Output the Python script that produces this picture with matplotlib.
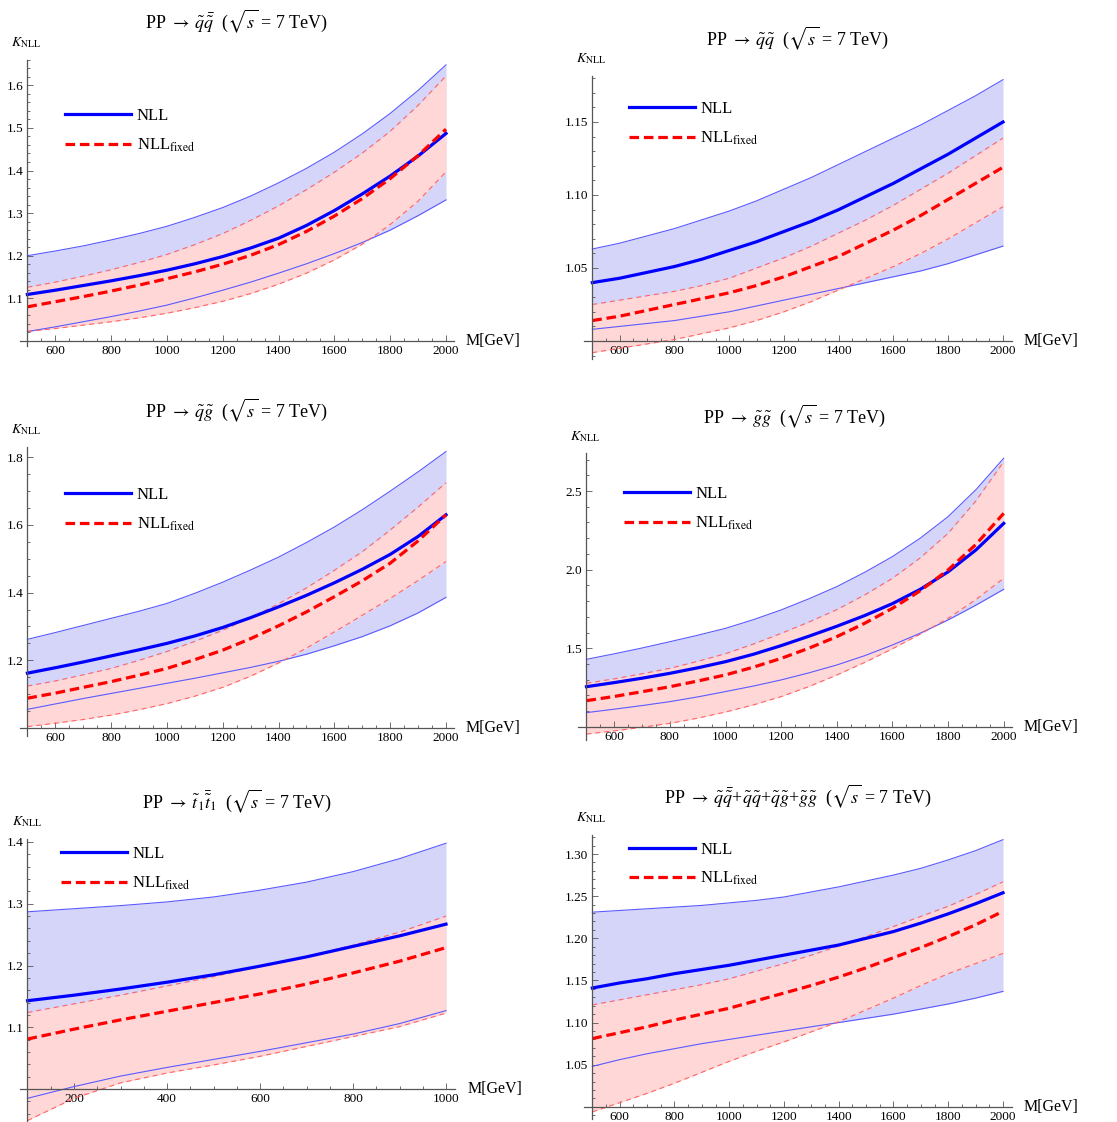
import matplotlib
matplotlib.use('Agg')
import matplotlib.pyplot as plt
from matplotlib.ticker import FixedLocator, MultipleLocator, FormatStrFormatter

plt.rcParams['font.family'] = ['Liberation Serif', 'DejaVu Serif']
plt.rcParams['mathtext.fontset'] = 'stix'

# ---- data ----
m_sq = [500, 600, 700, 800, 900, 1000, 1100, 1200, 1300, 1400, 1500, 1600, 1700, 1800, 1900, 2000]
m_st = [100, 200, 300, 400, 500, 600, 700, 800, 900, 1000]

# PP -> squark antisquark
qqb_nll = [1.109, 1.119, 1.130, 1.141, 1.153, 1.166, 1.181, 1.198, 1.218, 1.241, 1.271, 1.306, 1.345, 1.387, 1.434, 1.487]
qqb_nll_up = [1.200, 1.211, 1.223, 1.237, 1.252, 1.269, 1.290, 1.313, 1.340, 1.371, 1.405, 1.443, 1.486, 1.534, 1.588, 1.648]
qqb_nll_lo = [1.022, 1.033, 1.045, 1.057, 1.070, 1.084, 1.101, 1.119, 1.138, 1.159, 1.181, 1.205, 1.231, 1.260, 1.294, 1.331]
qqb_fix = [1.080, 1.092, 1.104, 1.117, 1.131, 1.146, 1.162, 1.180, 1.201, 1.226, 1.257, 1.293, 1.334, 1.381, 1.435, 1.497]
qqb_fix_up = [1.126, 1.138, 1.152, 1.167, 1.184, 1.203, 1.226, 1.252, 1.283, 1.317, 1.355, 1.396, 1.441, 1.492, 1.553, 1.622]
qqb_fix_lo = [1.022, 1.029, 1.037, 1.045, 1.054, 1.065, 1.078, 1.093, 1.111, 1.133, 1.159, 1.190, 1.227, 1.273, 1.328, 1.397]

# PP -> squark squark
qq_nll = [1.040, 1.043, 1.047, 1.051, 1.056, 1.062, 1.068, 1.075, 1.082, 1.090, 1.099, 1.108, 1.118, 1.128, 1.139, 1.150]
qq_nll_up = [1.063, 1.067, 1.072, 1.077, 1.083, 1.089, 1.096, 1.104, 1.112, 1.121, 1.130, 1.139, 1.148, 1.158, 1.168, 1.179]
qq_nll_lo = [1.008, 1.010, 1.012, 1.014, 1.017, 1.020, 1.024, 1.028, 1.032, 1.036, 1.040, 1.044, 1.048, 1.053, 1.059, 1.065]
qq_fix = [1.014, 1.017, 1.021, 1.025, 1.029, 1.033, 1.038, 1.044, 1.051, 1.058, 1.067, 1.076, 1.086, 1.097, 1.108, 1.119]
qq_fix_up = [1.025, 1.028, 1.031, 1.034, 1.038, 1.043, 1.050, 1.057, 1.065, 1.074, 1.083, 1.093, 1.104, 1.115, 1.127, 1.139]
qq_fix_lo = [0.992, 0.995, 0.998, 1.001, 1.005, 1.009, 1.014, 1.020, 1.027, 1.035, 1.043, 1.051, 1.060, 1.070, 1.081, 1.092]

# PP -> squark gluino
qg_nll = [1.162, 1.178, 1.195, 1.213, 1.231, 1.250, 1.272, 1.297, 1.326, 1.358, 1.392, 1.429, 1.469, 1.513, 1.566, 1.630]
qg_nll_up = [1.262, 1.282, 1.303, 1.324, 1.345, 1.368, 1.398, 1.431, 1.467, 1.505, 1.548, 1.594, 1.645, 1.700, 1.757, 1.817]
qg_nll_lo = [1.055, 1.071, 1.087, 1.102, 1.117, 1.132, 1.147, 1.163, 1.179, 1.197, 1.218, 1.243, 1.270, 1.302, 1.340, 1.386]
qg_fix = [1.088, 1.103, 1.120, 1.137, 1.156, 1.176, 1.202, 1.230, 1.264, 1.302, 1.343, 1.388, 1.435, 1.487, 1.553, 1.630]
qg_fix_up = [1.124, 1.139, 1.157, 1.176, 1.200, 1.226, 1.256, 1.289, 1.326, 1.367, 1.414, 1.466, 1.521, 1.585, 1.653, 1.725]
qg_fix_lo = [1.004, 1.014, 1.025, 1.038, 1.054, 1.072, 1.094, 1.120, 1.153, 1.192, 1.236, 1.284, 1.333, 1.383, 1.436, 1.492]

# PP -> gluino gluino
gg_nll = [1.256, 1.282, 1.310, 1.341, 1.376, 1.415, 1.462, 1.517, 1.577, 1.640, 1.708, 1.784, 1.875, 1.986, 2.125, 2.294]
gg_nll_up = [1.430, 1.465, 1.502, 1.542, 1.583, 1.627, 1.682, 1.744, 1.815, 1.892, 1.983, 2.083, 2.200, 2.337, 2.508, 2.708]
gg_nll_lo = [1.091, 1.113, 1.136, 1.161, 1.191, 1.225, 1.260, 1.299, 1.344, 1.394, 1.453, 1.521, 1.596, 1.680, 1.774, 1.875]
gg_fix = [1.167, 1.194, 1.224, 1.256, 1.292, 1.331, 1.380, 1.436, 1.501, 1.574, 1.659, 1.754, 1.866, 1.998, 2.160, 2.358]
gg_fix_up = [1.278, 1.306, 1.338, 1.373, 1.417, 1.466, 1.527, 1.595, 1.667, 1.746, 1.839, 1.945, 2.075, 2.231, 2.437, 2.686]
gg_fix_lo = [0.955, 0.975, 0.998, 1.023, 1.056, 1.095, 1.140, 1.193, 1.257, 1.330, 1.410, 1.497, 1.590, 1.690, 1.810, 1.945]

# PP -> stop antistop
tt_nll = [1.143, 1.152, 1.162, 1.173, 1.185, 1.199, 1.214, 1.231, 1.248, 1.267]
tt_nll_up = [1.287, 1.292, 1.297, 1.303, 1.311, 1.322, 1.335, 1.352, 1.373, 1.398]
tt_nll_lo = [0.985, 1.004, 1.021, 1.035, 1.048, 1.061, 1.075, 1.089, 1.106, 1.127]
tt_fix = [1.081, 1.097, 1.112, 1.126, 1.140, 1.154, 1.170, 1.188, 1.207, 1.229]
tt_fix_up = [1.124, 1.138, 1.152, 1.167, 1.182, 1.198, 1.215, 1.233, 1.254, 1.280]
tt_fix_lo = [0.949, 0.985, 1.010, 1.026, 1.039, 1.053, 1.069, 1.085, 1.101, 1.123]

# PP -> sum of all
all_nll = [1.141, 1.147, 1.152, 1.158, 1.163, 1.168, 1.174, 1.180, 1.186, 1.192, 1.200, 1.208, 1.218, 1.229, 1.241, 1.254]
all_nll_up = [1.231, 1.233, 1.235, 1.237, 1.239, 1.242, 1.245, 1.249, 1.255, 1.261, 1.268, 1.275, 1.283, 1.293, 1.304, 1.317]
all_nll_lo = [1.048, 1.056, 1.063, 1.069, 1.075, 1.080, 1.085, 1.090, 1.095, 1.100, 1.105, 1.110, 1.116, 1.122, 1.129, 1.137]
all_fix = [1.081, 1.088, 1.095, 1.103, 1.110, 1.117, 1.126, 1.135, 1.144, 1.154, 1.165, 1.177, 1.189, 1.202, 1.216, 1.232]
all_fix_up = [1.121, 1.127, 1.133, 1.139, 1.145, 1.152, 1.161, 1.170, 1.180, 1.191, 1.202, 1.214, 1.226, 1.238, 1.252, 1.267]
all_fix_lo = [0.994, 1.005, 1.016, 1.028, 1.041, 1.054, 1.066, 1.077, 1.089, 1.101, 1.115, 1.129, 1.144, 1.158, 1.170, 1.182]

titles = [r'PP $\rightarrow\; \tilde{q}\bar{\tilde{q}}$  ($\sqrt{s}$ = 7 TeV)',
          r'PP $\rightarrow\; \tilde{q}\tilde{q}$  ($\sqrt{s}$ = 7 TeV)',
          r'PP $\rightarrow\; \tilde{q}\tilde{g}$  ($\sqrt{s}$ = 7 TeV)',
          r'PP $\rightarrow\; \tilde{g}\tilde{g}$  ($\sqrt{s}$ = 7 TeV)',
          r'PP $\rightarrow\; \tilde{t}_1\bar{\tilde{t}}_1$  ($\sqrt{s}$ = 7 TeV)',
          r'PP $\rightarrow\; \tilde{q}\bar{\tilde{q}}$+$\tilde{q}\tilde{q}$+$\tilde{q}\tilde{g}$+$\tilde{g}\tilde{g}$  ($\sqrt{s}$ = 7 TeV)']

yticks = [[1.1, 1.2, 1.3, 1.4, 1.5, 1.6],
          [1.05, 1.10, 1.15],
          [1.2, 1.4, 1.6, 1.8],
          [1.5, 2.0, 2.5],
          [1.1, 1.2, 1.3, 1.4],
          [1.05, 1.10, 1.15, 1.20, 1.25, 1.30]]
xticks_sq = [600, 800, 1000, 1200, 1400, 1600, 1800, 2000]
xticks_st = [200, 400, 600, 800, 1000]

panels = [
    (m_sq, qqb_nll, qqb_nll_up, qqb_nll_lo, qqb_fix, qqb_fix_up, qqb_fix_lo),
    (m_sq, qq_nll, qq_nll_up, qq_nll_lo, qq_fix, qq_fix_up, qq_fix_lo),
    (m_sq, qg_nll, qg_nll_up, qg_nll_lo, qg_fix, qg_fix_up, qg_fix_lo),
    (m_sq, gg_nll, gg_nll_up, gg_nll_lo, gg_fix, gg_fix_up, gg_fix_lo),
    (m_st, tt_nll, tt_nll_up, tt_nll_lo, tt_fix, tt_fix_up, tt_fix_lo),
    (m_sq, all_nll, all_nll_up, all_nll_lo, all_fix, all_fix_up, all_fix_lo),
]

# ---- layout (pixels) ----
W, H = 1117, 1122
# (x1, x1px, x2, x2px), (y1, y1px, y2, y2px), xlim, ylim, x origin
geom = [
    ((600, 55.3, 2000, 446.0), (1.6, 85.3, 1.1, 298.3), (475, 2028), (0.987, 1.66), 500),
    ((600, 619.7, 2000, 1003.0), (1.15, 122.0, 1.05, 268.0), (470, 2033), (0.988, 1.1815), 500),
    ((600, 55.3, 2000, 446.0), (1.8, 457.3, 1.2, 660.3), (475, 2028), (0.975, 1.831), 500),
    ((600, 614.3, 2000, 1003.7), (2.5, 491.0, 1.5, 648.3), (470, 2030), (0.92, 2.74), 500),
    ((200, 74.0, 1000, 446.0), (1.4, 842.0, 1.1, 1027.3), (84, 1020), (0.948, 1.405), 100),
    ((600, 619.7, 2000, 1003.0), (1.30, 854.0, 1.05, 1064.7), (470, 2033), (0.985, 1.3225), 500),
]
title_pos = [(236.7, 21.7), (798, 38.3), (236.7, 410.7), (795, 416), (236.7, 801.7), (798, 796.7)]
legend_pos = [(65, 131), (628.7, 124), (65, 510), (623.7, 509), (60.7, 869), (628.7, 864.5)]
yminor = [0.02, 0.01, 0.05, 0.1, 0.02, 0.01]
yfmt = ['%.1f', '%.2f', '%.1f', '%.1f', '%.1f', '%.2f']

blue_fill = '#d5d5fa'
red_fill = '#ffd7d7'
axis_col = '#555555'

fig = plt.figure(figsize=(W / 100, H / 100), dpi=100)

for i, (m, nll, nll_up, nll_lo, fix, fix_up, fix_lo) in enumerate(panels):
    (x1, x1p, x2, x2p), (y1, y1p, y2, y2p), xlim, ylim, x0 = geom[i]
    sx = (x2p - x1p) / (x2 - x1)
    sy = (y2p - y1p) / (y2 - y1)
    left = x1p + (xlim[0] - x1) * sx
    right = x1p + (xlim[1] - x1) * sx
    top = y1p + (ylim[1] - y1) * sy
    bot = y1p + (ylim[0] - y1) * sy
    ax = fig.add_axes([left / W, 1 - bot / H, (right - left) / W, (bot - top) / H])
    ax.patch.set_alpha(0)

    ax.fill_between(m, nll_lo, nll_up, color=blue_fill, lw=0)
    ax.fill_between(m, fix_lo, fix_up, color=red_fill, lw=0)
    ax.plot(m, nll_up, color='#5a5aff', lw=0.8)
    ax.plot(m, nll_lo, color='#5a5aff', lw=0.8)
    ax.plot(m, fix_up, color='#ff6464', lw=0.8, dashes=(4.5, 3.5))
    ax.plot(m, fix_lo, color='#ff6464', lw=0.8, dashes=(4.5, 3.5))
    l1, = ax.plot(m, nll, color='#0000ff', lw=2.3, label='NLL')
    l2, = ax.plot(m, fix, color='#ff0000', lw=2.3, dashes=(3.0, 1.5),
                  label=r'NLL$_{\mathrm{fixed}}$')

    ax.set_xlim(*xlim)
    ax.set_ylim(*ylim)
    for s in ['top', 'right']:
        ax.spines[s].set_visible(False)
    ax.spines['left'].set_position(('data', x0))
    ax.spines['bottom'].set_position(('data', 1.0))
    for s in ['left', 'bottom']:
        ax.spines[s].set_color(axis_col)
        ax.spines[s].set_linewidth(0.9)

    ax.xaxis.set_major_locator(FixedLocator(xticks_st if i == 4 else xticks_sq))
    ax.xaxis.set_minor_locator(MultipleLocator(50))
    ax.yaxis.set_major_locator(FixedLocator(yticks[i]))
    ax.yaxis.set_minor_locator(MultipleLocator(yminor[i]))
    ax.yaxis.set_major_formatter(FormatStrFormatter(yfmt[i]))
    ax.tick_params(which='both', direction='in', color=axis_col, width=0.6,
                   labelsize=9.5, pad=3)
    ax.tick_params(which='major', length=4)
    ax.tick_params(which='minor', length=2.2)

    tx, ty = title_pos[i]
    fig.text(tx / W, 1 - ty / H, titles[i], fontsize=13, ha='center', va='center')
    yax_px = x1p + (x0 - x1) * sx
    fig.text((yax_px - 16) / W, 1 - (top - 17) / H, r'$K_{\mathrm{NLL}}$',
             fontsize=10, ha='left', va='center')
    xax_px = y1p + (1.0 - y1) * sy
    fig.text((right + 12) / W, 1 - xax_px / H, 'M[GeV]', fontsize=11.5,
             ha='left', va='center')

    lx, ly = legend_pos[i]
    ax.legend(handles=[l1, l2], loc='center left', frameon=False, fontsize=12,
              bbox_to_anchor=(lx / W, 1 - ly / H), bbox_transform=fig.transFigure,
              borderpad=0, borderaxespad=0, handlelength=3.95, handletextpad=0.35,
              labelspacing=0.75)

fig.savefig('out.png', dpi=100)
